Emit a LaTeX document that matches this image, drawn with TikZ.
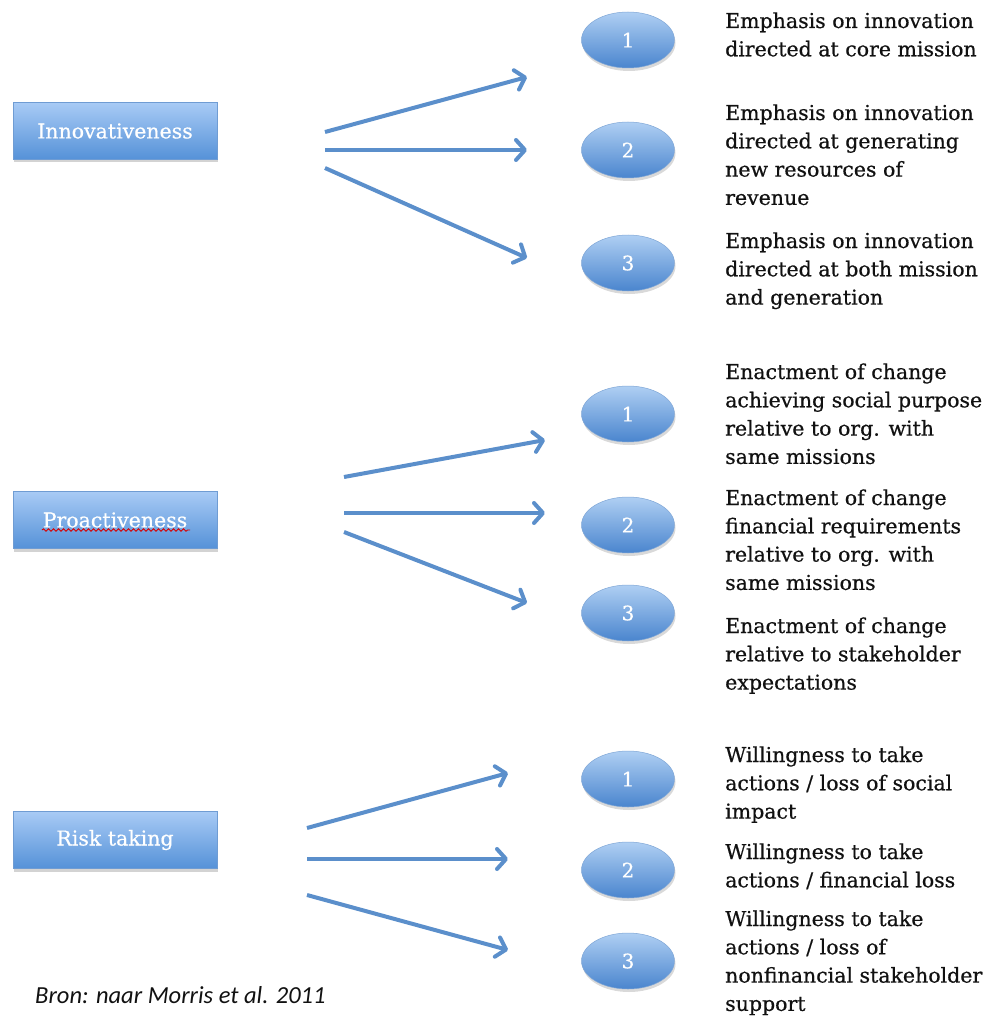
\documentclass[tikz,border=0pt]{standalone}
\usepackage{fontspec}
\setmainfont{DejaVu Serif}
\newfontfamily\descfont[FakeBold=0.6]{DejaVu Serif}
\newfontfamily\capfont{Carlito}
\usetikzlibrary{arrows.meta,shapes.geometric,shadows,decorations.pathmorphing}

\definecolor{boxtop}{HTML}{A8CAF5}
\definecolor{boxbot}{HTML}{5592D8}
\definecolor{boxedge}{HTML}{6F9CD3}
\definecolor{elltop}{HTML}{AFCFF3}
\definecolor{ellmid}{HTML}{7DAAE4}
\definecolor{ellbot}{HTML}{4A85CE}
\definecolor{elledge}{HTML}{7FA6D6}
\definecolor{arrowblue}{HTML}{5B8FCB}
\definecolor{inkgray}{HTML}{111111}

\begin{document}
\begin{tikzpicture}[x=1pt,y=-1pt,
  dimbox/.style={rectangle, minimum width=204pt, minimum height=57pt,
    draw=boxedge, line width=0.6pt, top color=boxtop, bottom color=boxbot,
    drop shadow={shadow xshift=1pt, shadow yshift=-3pt, opacity=0.35},
    text=white, font=\descfont\fontsize{20.5}{24}\selectfont},
  badge/.style={ellipse, minimum width=93pt, minimum height=56pt, inner sep=0pt,
    draw=elledge, line width=0.5pt, top color=elltop, middle color=ellmid, bottom color=ellbot,
    drop shadow={shadow xshift=1pt, shadow yshift=-3pt, opacity=0.3},
    text=white, font=\descfont\fontsize{20}{24}\selectfont},
  % anchored at the baseline of the last line
  desc/.style={anchor=base west, align=left, inner sep=0pt, text=inkgray,
    font=\descfont\fontsize{20.5}{28.3}\selectfont},
  link/.style={draw=arrowblue, line width=4pt, -{Straight Barb[length=9pt,width=20pt,round]}},
  squiggle/.style={draw=red!85!black, line width=0.9pt,
    decorate, decoration={snake, segment length=5pt, amplitude=1.2pt}}
]
\useasboundingbox (0,0) rectangle (989,1016);

% dimension boxes
\node[dimbox] (inno) at (115,131) {Innovativeness};
\node[dimbox] (proa) at (115,520) {Proactiveness};
\node[dimbox] (risk) at (115,840) {Risk taking};
\coordinate (wl) at (42,530);
\coordinate (wr) at (190,530);
\draw[squiggle] (wl) -- (wr);

% numbered badges
\node[badge] (i1) at (628,40) {1};
\node[badge] (i2) at (628,150) {2};
\node[badge] (i3) at (628,263) {3};
\node[badge] (p1) at (628,414) {1};
\node[badge] (p2) at (628,525) {2};
\node[badge] (p3) at (628,613) {3};
\node[badge] (r1) at (628,779) {1};
\node[badge] (r2) at (628,870) {2};
\node[badge] (r3) at (628,961) {3};

% descriptions
\node[desc] (ti1) at (725,56.3) {Emphasis on innovation\\directed at core mission};
\node[desc] (ti2) at (725,204.9) {Emphasis on innovation\\directed at generating\\new resources of\\revenue};
\node[desc] (ti3) at (725,304.6) {Emphasis on innovation\\directed at both mission\\and generation};
\node[desc] (tp1) at (725,463.9) {Enactment of change\\achieving social purpose\\relative to org. with\\same missions};
\node[desc] (tp2) at (725,589.9) {Enactment of change\\financial requirements\\relative to org. with\\same missions};
\node[desc] (tp3) at (725,689.6) {Enactment of change\\relative to stakeholder\\expectations};
\node[desc] (tr1) at (725,818.6) {Willingness to take\\actions / loss of social\\impact};
\node[desc] (tr2) at (725,887.3) {Willingness to take\\actions / financial loss};
\node[desc] (tr3) at (725,1010.9) {Willingness to take\\actions / loss of\\nonfinancial stakeholder\\support};

% arrow end points
\coordinate (ia) at (325,132); \coordinate (iA) at (527,77);
\coordinate (ib) at (325,150); \coordinate (iB) at (527,150);
\coordinate (ic) at (325,168); \coordinate (iC) at (527,258);
\coordinate (pa) at (344,477); \coordinate (pA) at (545,440);
\coordinate (pb) at (344,513); \coordinate (pB) at (545,513);
\coordinate (pc) at (344,532); \coordinate (pC) at (527,603);
\coordinate (ra) at (307,828); \coordinate (rA) at (508,773);
\coordinate (rb) at (307,859); \coordinate (rB) at (508,859);
\coordinate (rc) at (307,895); \coordinate (rC) at (508,950);

\foreach \s/\e in {ia/iA, ib/iB, ic/iC, pa/pA, pb/pB, pc/pC, ra/rA, rb/rB, rc/rC}
  \draw[link] (\s) -- (\e);

% source line
\node[anchor=base west, inner sep=0pt, text=inkgray, font=\capfont\itshape\fontsize{24.5}{28}\selectfont] (src) at (35,1003) {Bron: naar Morris et al. 2011};
\end{tikzpicture}
\end{document}
